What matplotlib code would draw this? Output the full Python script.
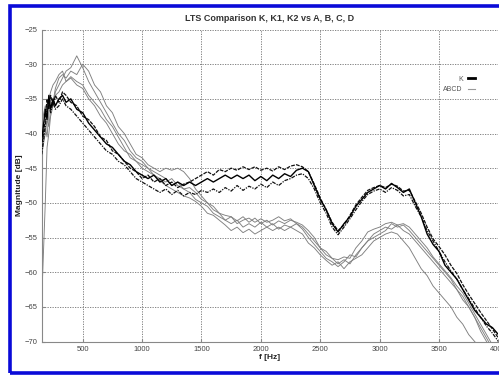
import matplotlib
matplotlib.use("Agg")
import matplotlib.pyplot as plt
from matplotlib.patches import Rectangle
from matplotlib.lines import Line2D

freq = [155, 185, 200, 215, 230, 250, 270, 300, 330, 360, 400, 450, 500,
        550, 600, 650, 700, 750, 800, 850, 900, 950, 1000, 1050, 1100, 1150, 1200,
        1250, 1300, 1350, 1400, 1450, 1500, 1550, 1600, 1650, 1700, 1750, 1800,
        1850, 1900, 1950, 2000, 2050, 2100, 2150, 2200, 2250, 2300, 2350, 2400,
        2450, 2500, 2550, 2600, 2650, 2700, 2750, 2800, 2850, 2900, 2950, 3000,
        3050, 3100, 3150, 3200, 3250, 3300, 3350, 3400, 3450, 3500, 3550, 3600,
        3650, 3700, 3750, 3800, 3850, 3900, 3950, 4000]

K = [-41, -36.5, -38, -34.5, -36.5, -35, -36, -35, -34.5, -35.5, -35, -36.5, -37,
     -38.5, -39.5, -40.5, -41.5, -42, -43, -44, -44.5, -45.5, -46, -46.5, -46, -47, -46.5,
     -47.5, -47, -47.5, -47, -47.5, -47, -46.5, -47, -46.5, -46, -46.5, -46,
     -46.5, -46, -46.8, -46.2, -46.8, -46, -46.5, -45.8, -46.2, -45.3, -45, -45.5,
     -47.5, -49.5, -51, -53, -54.2, -53, -52, -50.5, -49.5, -48.5, -48, -47.5,
     -48, -47.2, -47.8, -48.5, -48, -50, -52, -54.5, -56, -57, -59, -60,
     -61, -62.5, -64, -65.5, -66.5, -67.5, -68, -69]

K1 = [-42, -38, -35, -36.5, -34.5, -36, -34.5, -35.5, -34, -34.5, -35.5, -36, -37.5,
      -38, -39, -40.5, -41, -42.5, -43, -44, -45, -45.5, -46.5, -46, -47, -46.5, -47.5,
      -47, -47.8, -47.3, -47, -46.5, -46, -45.5, -46, -45.2, -45.5, -45, -45.3,
      -44.8, -45.2, -44.8, -45.3, -45, -45.4, -44.8, -45.2, -44.7, -44.5, -44.8, -45.5,
      -47.3, -49.3, -51, -52.8, -54, -53.2, -51.8, -50.3, -49.2, -48.2, -47.8, -47.5,
      -47.8, -47.3, -47.6, -48.3, -48.2, -49.8, -51.5, -53.5, -55.2, -56.3, -57.5, -59,
      -60.2, -61.8, -63.2, -64.5, -65.8, -67, -68.2, -69.5]

K2 = [-43, -39, -36, -35, -37, -35.5, -36.5, -36, -35, -36, -36.5, -37.5, -38.5,
      -39.5, -40.5, -41.5, -42.5, -43, -44, -44.5, -45.5, -46.5, -47, -47.5, -48, -48.5, -48,
      -48.8, -48.2, -49, -48.5, -48.8, -48.2, -48.5, -48, -48.5, -47.8, -48.3, -47.5,
      -48.2, -47.6, -48, -47.3, -47.8, -47, -47.5, -46.8, -46.5, -46, -45.8, -46.5,
      -48, -50, -51.5, -53.5, -54.6, -53.5, -52.3, -51, -49.8, -48.8, -48.3, -48,
      -48.5, -47.8, -48.2, -49, -48.8, -50.5, -52, -54, -55.5, -57, -58.5, -59.8,
      -61, -62.5, -63.8, -65.2, -66.5, -67.8, -68.8, -70]

A = [-64, -50, -42, -40, -37.5, -36, -34, -33, -32, -31, -30.5, -28.8, -30.5,
     -32.5, -34, -35.5, -37, -38.5, -40, -41, -42.5, -43.5, -44, -45, -45.5, -46, -46.5,
     -47.5, -47, -48, -48.5, -49.5, -50, -50.5, -51.5, -52, -52.5, -53, -52.5,
     -53.5, -53, -53.5, -52.8, -53.5, -53, -53.8, -53.2, -53.5, -53, -53.5, -54.5,
     -55.5, -56.5, -57.5, -58, -58.8, -58.2, -58.8, -57.5, -56.5, -55.5, -54.5, -54,
     -53.5, -53.8, -53.2, -54, -54.5, -55.5, -56.5, -57.5, -58.5, -59.5, -60.5, -61.5,
     -62.5, -64, -65, -66.5, -68, -69.5, -71, -72]

B = [-41, -39, -40.5, -37, -36, -35.5, -33.5, -32, -31.5, -32, -31, -31.5, -30,
     -31, -33, -34, -36, -37, -39, -40, -41.5, -43, -43.5, -44.5, -45, -45.5, -45,
     -45.3, -45, -45.5, -46.5, -48, -49, -50, -51, -51.5, -52.5, -52, -53,
     -52.5, -52.2, -52.8, -52.3, -52.8, -52.5, -52, -52.6, -52.3, -53, -53.8, -55,
     -56, -57, -58, -58.5, -59.2, -58.5, -57.5, -57.8, -56.5, -55.5, -55, -54.5,
     -54, -53, -53.5, -53.2, -54, -55, -56, -57, -58, -59, -60, -61,
     -62.5, -63.5, -65, -66.5, -68.5, -70, -71.5, -73]

C = [-38.5, -36, -37.5, -35, -34, -33, -32.5, -31.5, -31, -32.5, -32, -33, -33.5,
     -35, -36, -37.5, -38.5, -40, -41.5, -42.5, -43, -44, -45, -45.5, -46, -46.8, -47.5,
     -48, -48.5, -49, -49.3, -49.8, -50.5, -51.5, -51.8, -52.5, -53.2, -54, -53.5,
     -54.3, -53.8, -54.5, -54, -53.5, -54, -53.5, -54, -53.5, -54, -54.5, -55.8,
     -56.5, -57.5, -58.3, -59, -58.5, -59.5, -58.5, -58, -57.5, -56.5, -55.5, -55,
     -54.5, -54.2, -54.5, -55.5, -56.5, -58, -59.5, -60.5, -62, -63, -64, -65,
     -66.5, -67.5, -69, -70, -71, -72, -73, -74]

D = [-43, -40, -38, -39, -36.5, -35, -34.5, -34, -33, -32.5, -31.8, -32.5, -33,
     -34.5, -35.5, -36.5, -38, -39, -40.5, -42, -43.5, -44, -44.5, -45, -46, -46.5, -47,
     -46.5, -47.5, -48, -47.8, -48.5, -49.5, -50, -50.5, -51.5, -51.8, -52, -52.6,
     -52, -52.8, -52.2, -53, -52.5, -53.2, -52.6, -53, -52.5, -52.8, -53.2, -54,
     -55, -56.5, -57, -58, -58.2, -57.8, -58, -56.5, -55.5, -54.2, -53.8, -53.5,
     -53, -52.8, -53.2, -53, -53.5, -54.5, -55.5, -56.5, -57.8, -58.8, -59.8, -60.8,
     -62, -63, -64.5, -66, -67.5, -69, -70.5, -71.5]

title = "LTS Comparison K, K1, K2 vs A, B, C, D"
xticks = [500, 1000, 1500, 2000, 2500, 3000, 3500, 4000]
yticks = [-25, -30, -35, -40, -45, -50, -55, -60, -65, -70]

plt.rcParams['font.family'] = ['Liberation Sans', 'DejaVu Sans']

fig = plt.figure(figsize=(4.99, 3.75), dpi=100)
fig.patch.set_facecolor('white')
ax = fig.add_axes([0.0836, 0.0893, 0.9152, 0.832])

gray = '#7f7f7f'
for s in (A, B, C, D):
    ax.plot(freq, s, color=gray, lw=0.65, zorder=2)
ax.plot(freq, K1, color='#111111', lw=0.9, ls=(0, (3, 1)), zorder=3)
ax.plot(freq, K2, color='#111111', lw=0.9, ls=(0, (3, 1, 1, 1)), zorder=3)
ax.plot(freq, K, color='black', lw=1.0, zorder=3)

ax.set_xlim(155, 4000)
ax.set_ylim(-70, -25)
ax.set_xticks(xticks)
ax.set_yticks(yticks)
ax.grid(True, color='#707070', ls=(0, (1.5, 1.5)), lw=0.6)
for sp in ('top', 'right'):
    ax.spines[sp].set_visible(False)
for sp in ('left', 'bottom'):
    ax.spines[sp].set_color('#888888')
    ax.spines[sp].set_linewidth(0.8)
ax.tick_params(direction='in', length=2, colors='#888888', labelcolor='#444444',
               labelsize=5.5, pad=3)

ax.set_title(title, fontsize=6.5, fontweight='bold', color='#333333', pad=6)
ax.set_ylabel("Magnitude [dB]", fontsize=6, fontweight='bold', color='#222222')
ax.yaxis.set_label_coords(-0.042, 0.5)
ax.set_xlabel("f [Hz]", fontsize=6, fontweight='bold', color='#222222', labelpad=1)

handles = [Line2D([], [], color='black', lw=2.0),
           Line2D([], [], color='#999999', lw=0.8)]
fig.legend(handles, ['K', 'ABCD'], loc='upper right', bbox_to_anchor=(0.965, 0.815),
           frameon=False, fontsize=5, markerfirst=False, handlelength=1.0,
           handletextpad=0.8, labelspacing=0.5, labelcolor='#555555')

fig.add_artist(Rectangle((10 / 499, 2.5 / 375), 600 / 499, 367 / 375,
                         transform=fig.transFigure, fill=False,
                         edgecolor='#0a0ad8', lw=2.6, clip_on=False))

fig.savefig("out.png", dpi=100)
